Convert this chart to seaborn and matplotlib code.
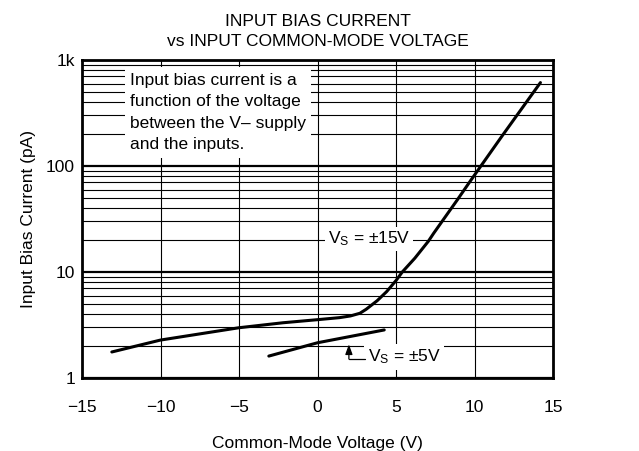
import matplotlib
matplotlib.use("Agg")
import matplotlib.pyplot as plt
import seaborn as sns
import pandas as pd
from matplotlib.ticker import FixedLocator, FixedFormatter, NullFormatter, LogLocator

# ---- data ----
vcm_15 = [-13.1, -10.0, -5.0, -2.2, 0.0, 1.4, 2.1, 2.7, 3.1, 3.8, 4.4, 5.0, 5.4,
          6.2, 7.06, 7.4, 8.9, 9.7, 11.8, 14.2]
ib_15 = [1.76, 2.28, 2.98, 3.32, 3.55, 3.71, 3.85, 4.08, 4.45, 5.36, 6.52, 8.3, 10.0,
         13.5, 19.5, 23.2, 47.8, 71.0, 196.0, 612.0]
vcm_5 = [-3.1, 0.0, 4.25]
ib_5 = [1.61, 2.15, 2.84]

x_ticks = [-15, -10, -5, 0, 5, 10, 15]
x_tick_labels = ["\u221215", "\u221210", "\u22125", "0", "5", "10", "15"]
y_ticks = [1, 10, 100, 1000]
y_tick_labels = ["1", "10", "100", "1k"]

df = pd.concat([
    pd.DataFrame({"V": vcm_15, "I": ib_15, "Vs": "15"}),
    pd.DataFrame({"V": vcm_5, "I": ib_5, "Vs": "5"}),
])

sns.set_theme(style="white")
plt.rcParams["font.family"] = ["Liberation Sans", "DejaVu Sans"]
plt.rcParams["mathtext.fontset"] = "custom"
plt.rcParams["mathtext.rm"] = "Liberation Sans"
plt.rcParams["mathtext.default"] = "regular"

FS = 12.5

fig = plt.figure(figsize=(6.39, 4.51), dpi=100)
ax = fig.add_axes([82 / 639, 1 - 378 / 451, 471 / 639, 318 / 451])

sns.lineplot(data=df, x="V", y="I", units="Vs", estimator=None, sort=False,
             color="black", linewidth=2.2, ax=ax, legend=False, zorder=2)

ax.set_yscale("log")
ax.set_xlim(-15, 15)
ax.set_ylim(1, 1000)

ax.xaxis.set_major_locator(FixedLocator(x_ticks))
ax.xaxis.set_major_formatter(FixedFormatter(x_tick_labels))
ax.yaxis.set_major_locator(FixedLocator(y_ticks))
ax.yaxis.set_major_formatter(FixedFormatter(y_tick_labels))
ax.yaxis.set_minor_locator(LogLocator(base=10, subs=range(2, 10)))
ax.yaxis.set_minor_formatter(NullFormatter())

ax.grid(True, which="major", axis="x", color="black", linewidth=0.8)
ax.grid(True, which="major", axis="y", color="black", linewidth=1.6)
ax.grid(True, which="minor", axis="y", color="black", linewidth=0.8)
ax.set_axisbelow(True)

for s in ax.spines.values():
    s.set_visible(True)
    s.set_color("black")
    s.set_linewidth(2.0)
    s.set_zorder(5)

ax.tick_params(axis="both", which="both", length=0, colors="black", labelsize=FS)
ax.tick_params(axis="x", pad=16)
ax.tick_params(axis="y", pad=5)

ax.set_xlabel("Common-Mode Voltage (V)", fontsize=FS, labelpad=15, color="black")
ax.set_ylabel("Input Bias Current (pA)", fontsize=FS, labelpad=7, color="black")
ax.set_title("INPUT BIAS CURRENT\nvs INPUT COMMON-MODE VOLTAGE",
             fontsize=FS, linespacing=1.45, pad=10, color="black")

# annotations
ax.text(-11.95, 760, "Input bias current is a\nfunction of the voltage\nbetween the V\u2013 supply\nand the inputs.",
        fontsize=FS, va="top", ha="left", linespacing=1.55, color="black", zorder=4,
        bbox=dict(boxstyle="square,pad=0.3", facecolor="white", edgecolor="none"))

ax.text(3.3, 20.5, "V$_S$ = \u00b115V", fontsize=FS, ha="center", va="center",
        color="black", zorder=4,
        bbox=dict(boxstyle="square,pad=0.15", facecolor="white", edgecolor="none"))

ax.text(3.2, 1.58, "V$_S$ = \u00b15V", fontsize=FS, ha="left", va="center",
        color="black", zorder=4,
        bbox=dict(boxstyle="square,pad=0.2", facecolor="white", edgecolor="none"))
ax.plot([2.0, 3.05], [1.51, 1.51], color="black", linewidth=0.9, zorder=4)
ax.annotate("", xy=(2.0, 2.08), xytext=(2.0, 1.51),
            arrowprops=dict(arrowstyle="-|>,head_length=0.5,head_width=0.18",
                            color="black", linewidth=0.9, shrinkA=0, shrinkB=0),
            zorder=4)

fig.savefig("out.png", dpi=100, facecolor="white")
